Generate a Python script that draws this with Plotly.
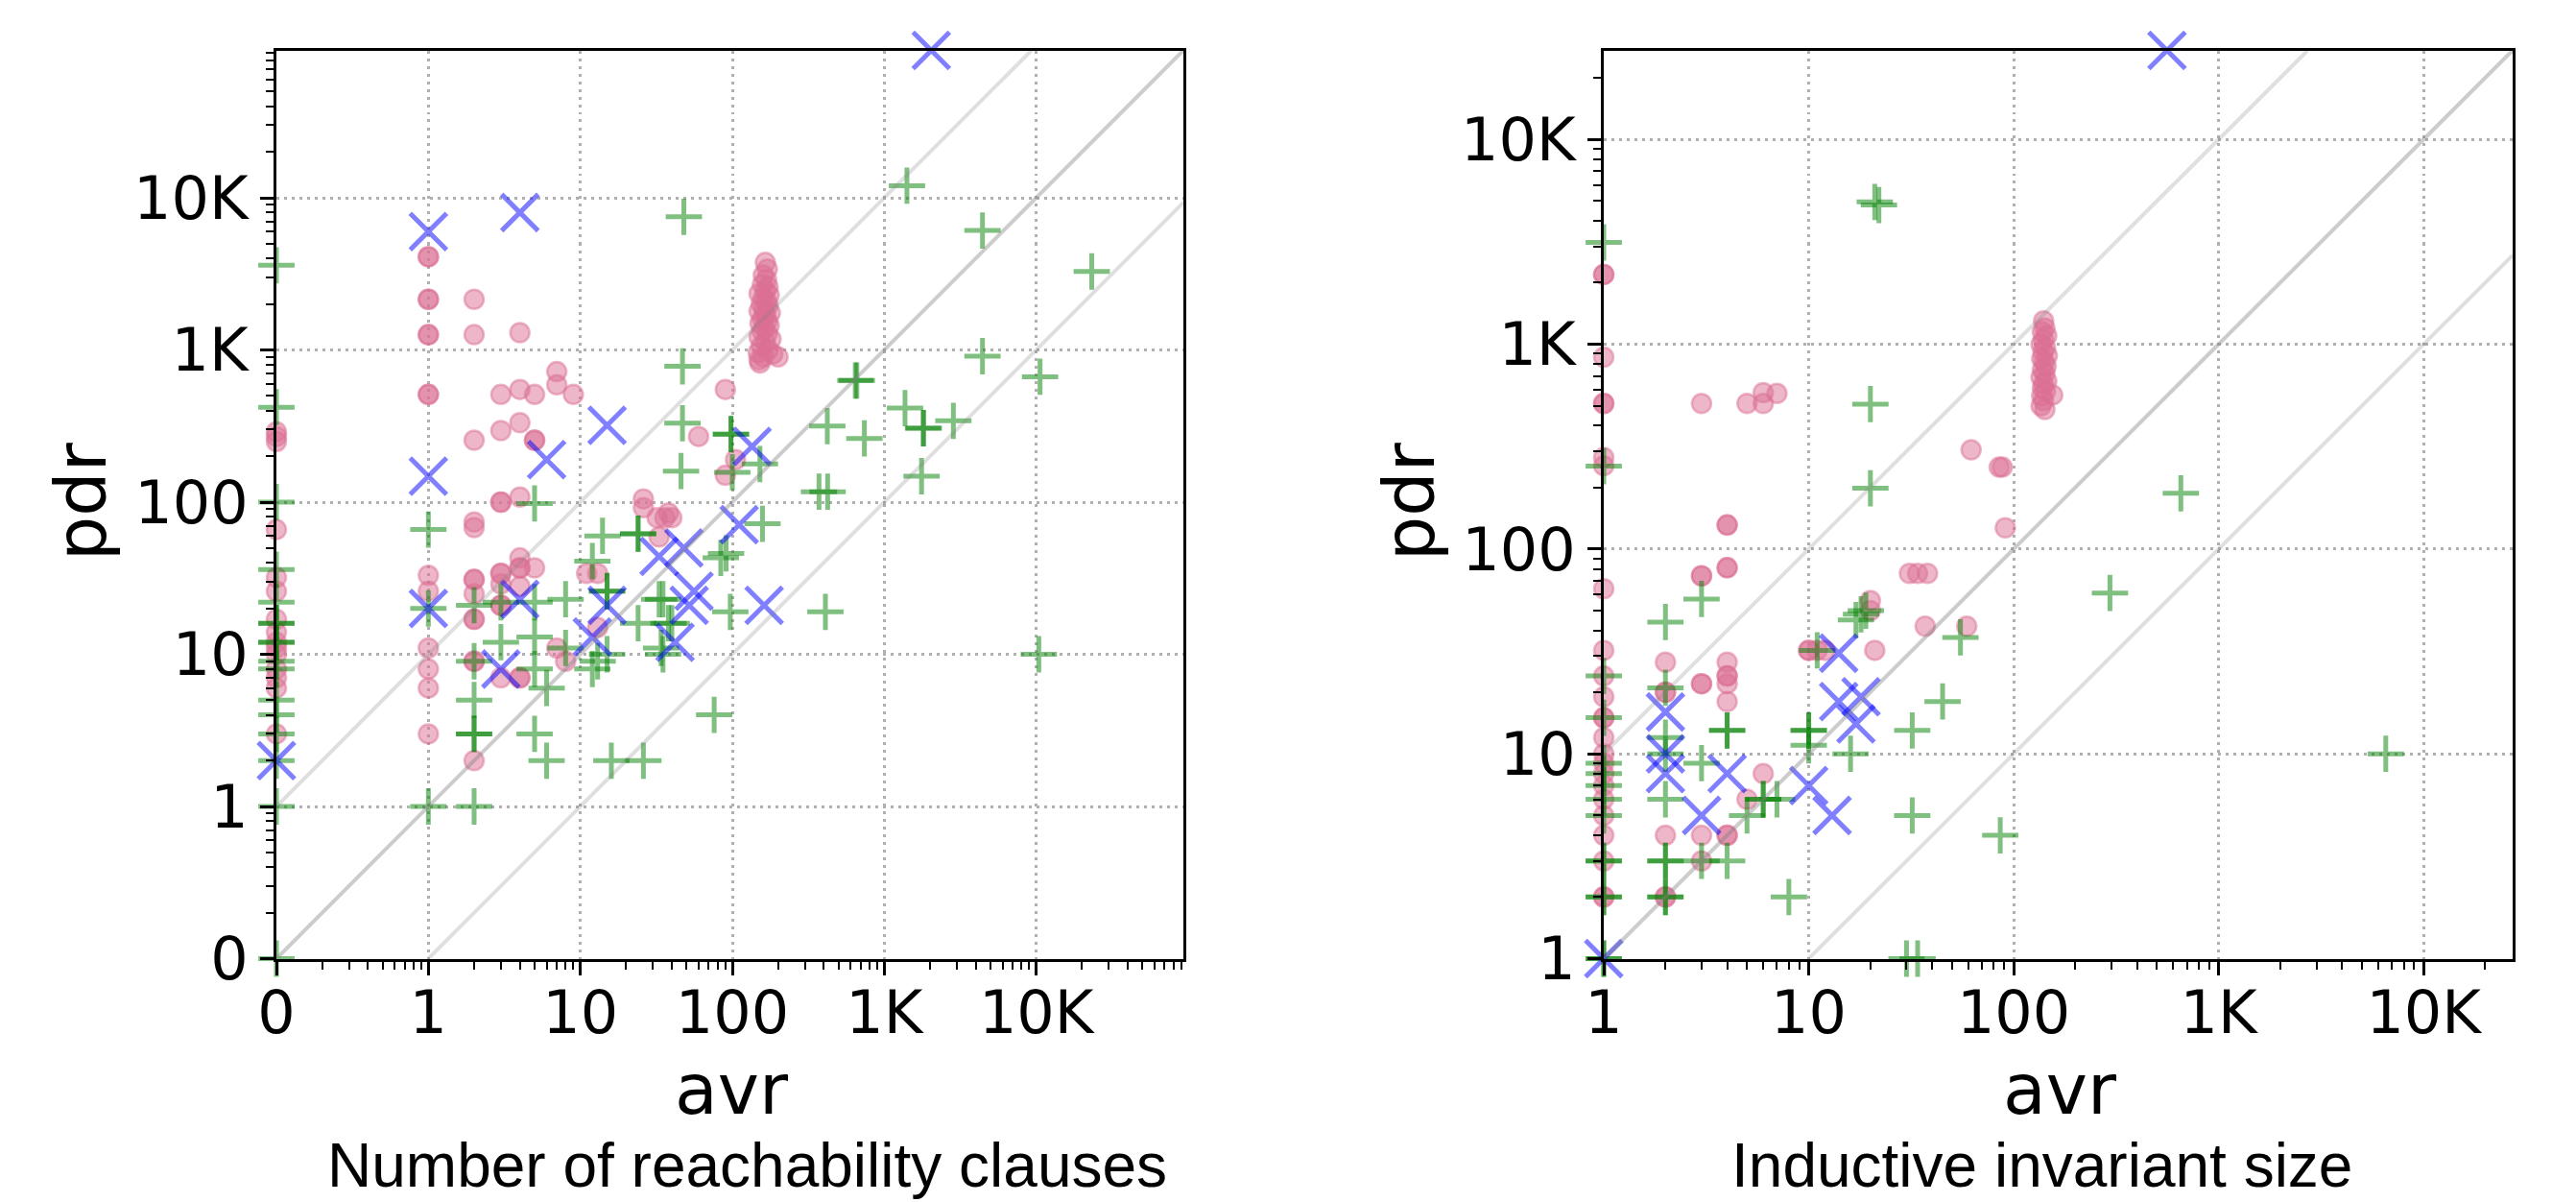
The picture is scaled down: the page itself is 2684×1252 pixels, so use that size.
import math
import plotly.graph_objects as go

# ---------------- data ----------------
# Left panel: Number of reachability clauses (avr on x, pdr on y); 0 is shown on a symlog-like axis
left_pink_x = [0]*15 + [1]*14 + [2]*13 + [3]*10 + [4]*10 + [5]*4 + [7]*3 + [8, 9, 11, 13, 13, 26, 26, 32, 36, 40, 38, 33, 60, 90, 90, 105]
left_pink_y = ([290, 270, 250, 66, 32, 26, 17, 14, 12, 11, 10, 8, 7, 6, 3]
               + [4100, 4100, 2150, 2150, 1260, 1260, 510, 510, 33, 26, 11, 8, 6, 3]
               + [2150, 1260, 255, 74, 68, 31, 31, 25, 17, 17, 9, 9, 2]
               + [510, 295, 100, 100, 34, 34, 29, 21, 21, 7]
               + [1300, 550, 333, 108, 43, 37, 37, 28, 7, 7]
               + [510, 255, 255, 37]
               + [720, 590, 11]
               + [9, 510, 34, 34, 15, 105, 92, 79, 79, 79, 85, 59, 270, 550, 150, 190])
left_cluster_x = [165, 170, 160, 168, 158, 172, 165, 150, 175, 160, 168, 155, 172, 162, 150, 178, 165, 158,
                  170, 152, 175, 163, 157, 170, 150, 180, 165, 155, 172, 148, 185, 160, 150, 200, 152]
left_cluster_y = [3760, 3400, 3100, 2900, 2700, 2600, 2450, 2350, 2300, 2200, 2100, 2000, 1950, 1850, 1800,
                  1750, 1700, 1600, 1550, 1500, 1450, 1400, 1330, 1280, 1220, 1180, 1120, 1060, 1000, 960,
                  940, 900, 860, 900, 820]

left_green_x = ([0]*17 + [1, 1, 1] + [2]*6 + [3, 3] + [5]*5 + [6, 6] + [8, 8]
                + [12, 12, 13, 15, 15, 15, 14, 24, 24, 24, 40, 34, 33, 35, 38, 35, 16, 26, 76, 84, 91, 97,
                   47, 47, 46, 48, 98, 98, 152, 100, 158, 410, 10400, 422, 740, 645, 660, 1370, 1800, 1820,
                   2850, 4430, 10600, 1760, 372, 424, 1410, 4430, 23200])
left_green_y = ([3600, 420, 100, 36, 22, 16, 16, 12, 12, 9, 8, 5, 4, 3, 2, 1, 0]
                + [66, 20, 1] + [21, 9, 5, 3, 3, 1] + [22, 12] + [98, 22, 13, 8, 3] + [6, 2] + [23, 11]
                + [41, 8, 9, 10, 26, 26, 60, 62, 62, 16, 16, 11, 23, 10, 16, 23, 2, 2, 4, 43, 46, 19,
                   780, 330, 160, 7500, 280, 280, 178, 157, 72, 19, 10, 316, 262, 630, 630, 415, 306, 306,
                   342, 910, 667, 148, 117, 117, 12000, 6100, 3280])

left_blue_x = [0, 1, 1, 1, 4, 6, 15, 4, 3, 15, 12, 33, 48, 56, 52, 42, 135, 111, 162, 2040]
left_blue_y = [2, 148, 6000, 20, 8000, 190, 320, 23, 8, 21, 13, 44, 50, 26, 21, 12, 232, 71, 21, 93000]

# Right panel: Inductive invariant size (avr on x, pdr on y)
right_pink_x = [1]*24 + [2]*6 + [3]*7 + [4]*11 + [5, 5, 6, 6, 6, 7, 10, 10, 11, 12, 20, 20, 21, 31, 34, 38, 37, 59, 62, 85, 88, 91]
right_pink_y = ([2190, 2190, 865, 514, 514, 280, 255, 64, 32, 24, 19, 15, 15, 12, 10, 9, 8, 7, 6, 5, 4, 3, 2, 2]
                + [28, 20, 20, 4, 2, 2]
                + [514, 74, 74, 22, 22, 4, 3]
                + [131, 131, 81, 81, 28, 24, 24, 22, 18, 4, 4]
                + [514, 6, 514, 580, 8, 575, 32, 32, 32, 32, 56, 50, 32, 76, 76, 76, 42, 42, 305, 251, 251, 127])
right_cluster_x = [140, 142, 138, 145, 140, 136, 143, 139, 146, 137, 141, 144, 138, 142, 136, 145, 140, 138,
                   143, 137, 155, 140, 136, 142]
right_cluster_y = [1300, 1200, 1150, 1100, 1050, 1000, 960, 920, 880, 850, 820, 780, 750, 720, 690, 660, 640,
                   610, 590, 560, 565, 530, 500, 480]

right_green_x = ([1]*15 + [2]*9 + [3]*3 + [4]*3
                 + [5, 6, 6, 7, 8, 10, 10, 10, 11, 16, 17, 18, 19, 20, 20, 21, 22, 32, 32, 45, 55, 86, 295, 654,
                    6540, 30, 34])
right_green_y = ([3140, 254, 24, 15, 9, 8, 7, 6, 5, 3, 3, 2, 2, 1, 1]
                 + [44, 21, 12, 10, 6, 3, 3, 2, 2] + [57, 9, 3] + [13, 13, 3]
                 + [5, 6, 6, 6, 2, 13, 13, 11, 32, 10, 45, 48, 50, 510, 198, 4950, 4780, 13, 5, 18, 37, 4, 61, 187,
                    10, 1, 1])

right_blue_x = [1, 2, 2, 2, 3, 4, 10, 13, 14, 14, 18, 17, 560]
right_blue_y = [1, 16, 10, 8, 5, 8, 7, 5, 31, 18, 19, 14, 27200]

left_tick_vals = [0, 1, 10, 100, 1000, 10000]
left_tick_text = ["0", "1", "10", "100", "1K", "10K"]
right_tick_vals = [1, 10, 100, 1000, 10000]
right_tick_text = ["1", "10", "100", "1K", "10K"]

left_max = 93000
right_max = 27200

# ---------------- helpers ----------------
ZERO_POS = 0.1  # symlog-style display: 0 sits one decade below 1


def disp(v):
    return [ZERO_POS if a == 0 else a for a in v]


PINK = 'rgba(219,112,147,0.5)'
GREEN = 'rgba(0,128,0,0.5)'
BLUE = 'rgba(0,0,255,0.5)'

fig = go.Figure()


def add_panel(xa, ya, px, py, gx, gy, bx, by, lo, hi):
    fig.add_trace(go.Scatter(x=disp(px), y=disp(py), mode='markers', xaxis=xa, yaxis=ya, cliponaxis=False,
                             marker=dict(symbol='circle', size=20, color=PINK, line=dict(color=PINK, width=2.5)),
                             showlegend=False, hoverinfo='skip'))
    fig.add_trace(go.Scatter(x=disp(gx), y=disp(gy), mode='markers', xaxis=xa, yaxis=ya, cliponaxis=False,
                             marker=dict(symbol='cross-thin', size=27, color=GREEN, line=dict(color=GREEN, width=5)),
                             showlegend=False, hoverinfo='skip'))
    fig.add_trace(go.Scatter(x=disp(bx), y=disp(by), mode='markers', xaxis=xa, yaxis=ya, cliponaxis=False,
                             marker=dict(symbol='x-thin', size=38, color=BLUE, line=dict(color=BLUE, width=5)),
                             showlegend=False, hoverinfo='skip'))
    # reference diagonals y = x, y = 10x, y = x/10
    for k, col in [(1, 'rgba(128,128,128,0.40)'), (10, 'rgba(128,128,128,0.25)'), (0.1, 'rgba(128,128,128,0.25)')]:
        if k == 1:
            xs = [lo, hi]
        elif k > 1:
            xs = [lo, hi / k]
        else:
            xs = [lo / k, hi]
        ys = [x * k for x in xs]
        fig.add_trace(go.Scatter(x=xs, y=ys, mode='lines', xaxis=xa, yaxis=ya,
                                 line=dict(color=col, width=4), showlegend=False, hoverinfo='skip'))


add_panel('x', 'y', left_pink_x + left_cluster_x, left_pink_y + left_cluster_y,
          left_green_x, left_green_y, left_blue_x, left_blue_y, ZERO_POS, left_max)
add_panel('x2', 'y2', right_pink_x + right_cluster_x, right_pink_y + right_cluster_y,
          right_green_x, right_green_y, right_blue_x, right_blue_y, 1, right_max)

W, H = 2684, 1252


def ax(domain, rng, tv, tt, anchor, standoff=0):
    return dict(type='log', domain=domain, range=rng, anchor=anchor,
                tickmode='array', tickvals=tv, ticktext=tt,
                showline=True, linecolor='black', linewidth=3, mirror=True,
                ticks='outside', ticklen=14, tickwidth=3, tickcolor='black',
                ticklabelstandoff=standoff,
                tickfont=dict(family='DejaVu Sans', size=62, color='black'),
                showgrid=True, gridcolor='#b0b0b0', gridwidth=2.5, griddash='3px,5px',
                zeroline=False, automargin=False,
                minor=dict(ticks='outside', ticklen=8, tickwidth=2, tickcolor='black', dtick='D1',
                           showgrid=False))


ydom = [1 - 998.5 / H, 1 - 52.5 / H]
fig.update_layout(
    width=W, height=H,
    margin=dict(l=0, r=0, t=0, b=0),
    paper_bgcolor='white', plot_bgcolor='white',
    xaxis=ax([288 / W, 1233 / W], [-1, math.log10(left_max)], disp(left_tick_vals), left_tick_text, 'y', -14),
    yaxis=ax(ydom, [-1, math.log10(left_max)], disp(left_tick_vals), left_tick_text, 'x'),
    xaxis2=ax([1671 / W, 2618 / W], [0, math.log10(right_max)], right_tick_vals, right_tick_text, 'y2', -14),
    yaxis2=ax(ydom, [0, math.log10(right_max)], right_tick_vals, right_tick_text, 'x2'),
)

ann = []
for xc in (84, 1468):
    ann.append(dict(text='pdr', x=xc / W, y=1 - 522 / H, xref='paper', yref='paper', showarrow=False,
                    textangle=-90, xanchor='center', yanchor='middle',
                    font=dict(family='DejaVu Sans', size=73, color='black')))
for xc in (762, 2146):
    ann.append(dict(text='avr', x=xc / W, y=1 - 1134 / H, xref='paper', yref='paper', showarrow=False,
                    xanchor='center', yanchor='middle',
                    font=dict(family='DejaVu Sans', size=73, color='black')))
for xc, t in ((778, 'Number of reachability clauses'), (2127, 'Inductive invariant size')):
    ann.append(dict(text=t, x=xc / W, y=1 - 1214 / H, xref='paper', yref='paper', showarrow=False,
                    xanchor='center', yanchor='middle',
                    font=dict(family='Liberation Sans', size=64, color='black')))
fig.update_layout(annotations=ann)

# remove the browser's default 8px page margin so the figure fills the window exactly
fig.write_html('out.html', config={'displayModeBar': False},
               post_script="document.body.style.margin='0';")
